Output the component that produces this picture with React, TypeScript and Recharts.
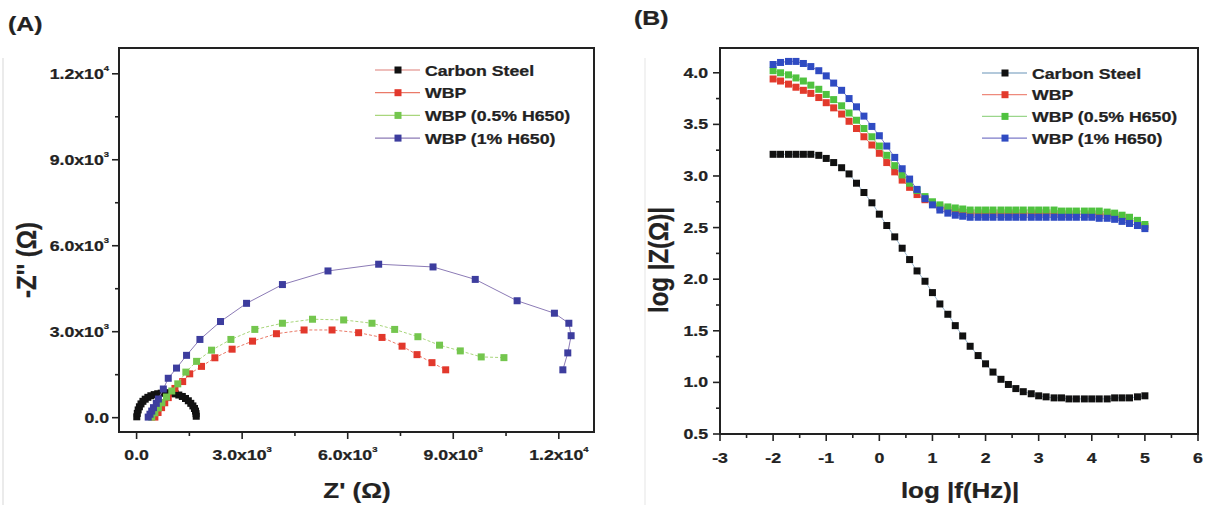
import React from "react";
import { ScatterChart, Scatter, XAxis, YAxis, ReferenceArea } from "recharts";

// ---- (A) Nyquist plot: Z' (ohm) vs -Z'' (ohm)
const CS_ZRE = [5, 20, 45, 80, 125, 180, 245, 320, 405, 500, 600, 700, 800, 900, 1000, 1100, 1200, 1300, 1390, 1470, 1540, 1600, 1645, 1675, 1690, 1695];
const CS_ZIM = [30, 150, 270, 380, 480, 570, 645, 710, 765, 805, 835, 855, 865, 865, 855, 830, 790, 740, 670, 590, 500, 410, 320, 230, 140, 50];

const WBP_ZRE = [520, 610, 710, 800, 900, 1090, 1310, 1510, 1845, 2225, 2715, 3295, 3975, 4760, 5555, 6310, 6975, 7545, 7970, 8395, 8785];
const WBP_ZIM = [20, 180, 350, 520, 700, 1020, 1260, 1530, 1790, 2090, 2390, 2670, 2930, 3060, 3060, 2965, 2800, 2495, 2200, 1920, 1670];

const H05_ZRE = [430, 520, 620, 720, 850, 1000, 1170, 1400, 1705, 2130, 2680, 3360, 4145, 5000, 5885, 6690, 7335, 7995, 8610, 9200, 9795, 10440];
const H05_ZIM = [20, 170, 340, 520, 720, 930, 1180, 1590, 1965, 2355, 2730, 3080, 3295, 3435, 3410, 3295, 3080, 2825, 2530, 2330, 2120, 2095];

const H1_ZRE = [330, 380, 430, 480, 560, 620, 760, 900, 1135, 1420, 1800, 2385, 3125, 4145, 5440, 6880, 8425, 9625, 10815, 11875, 12285, 12350, 12255, 12115];
const H1_ZIM = [20, 120, 230, 350, 500, 650, 1000, 1375, 1730, 2175, 2730, 3355, 3990, 4645, 5120, 5355, 5260, 4825, 4080, 3645, 3295, 2860, 2260, 1670];

// ---- (B) Bode plot: log f (Hz) vs log |Z|
const LOG_F = [-2.0, -1.86, -1.71, -1.57, -1.43, -1.29, -1.14, -1.0, -0.86, -0.71, -0.57, -0.43, -0.29, -0.14, 0.0, 0.14, 0.29, 0.43, 0.57, 0.71, 0.86, 1.0, 1.14, 1.29, 1.43, 1.57, 1.71, 1.86, 2.0, 2.14, 2.29, 2.43, 2.57, 2.71, 2.86, 3.0, 3.14, 3.29, 3.43, 3.57, 3.71, 3.86, 4.0, 4.14, 4.29, 4.43, 4.57, 4.71, 4.86, 5.0];
const BODE_CS = [3.21, 3.21, 3.21, 3.21, 3.21, 3.21, 3.2, 3.17, 3.13, 3.08, 3.02, 2.93, 2.84, 2.74, 2.63, 2.52, 2.41, 2.3, 2.19, 2.08, 1.98, 1.87, 1.76, 1.66, 1.55, 1.45, 1.35, 1.26, 1.18, 1.1, 1.03, 0.98, 0.94, 0.91, 0.89, 0.87, 0.86, 0.85, 0.85, 0.84, 0.84, 0.84, 0.84, 0.84, 0.84, 0.85, 0.85, 0.85, 0.86, 0.87];
const BODE_WBP = [3.94, 3.92, 3.89, 3.86, 3.83, 3.8, 3.76, 3.71, 3.66, 3.6, 3.53, 3.46, 3.38, 3.3, 3.22, 3.13, 3.04, 2.96, 2.89, 2.82, 2.77, 2.73, 2.7, 2.68, 2.66, 2.65, 2.64, 2.64, 2.64, 2.64, 2.64, 2.64, 2.64, 2.64, 2.64, 2.64, 2.64, 2.63, 2.63, 2.63, 2.63, 2.63, 2.63, 2.63, 2.63, 2.62, 2.6, 2.58, 2.55, 2.51];
const BODE_H05 = [4.02, 4.0, 3.98, 3.95, 3.92, 3.88, 3.84, 3.79, 3.74, 3.68, 3.61, 3.54, 3.46, 3.38, 3.29, 3.2, 3.1, 3.01, 2.93, 2.86, 2.8, 2.75, 2.72, 2.7, 2.69, 2.68, 2.67, 2.67, 2.67, 2.67, 2.67, 2.67, 2.67, 2.67, 2.67, 2.67, 2.67, 2.67, 2.66, 2.66, 2.66, 2.66, 2.66, 2.66, 2.65, 2.64, 2.62, 2.6, 2.57, 2.53];
const BODE_H1 = [4.08, 4.1, 4.11, 4.11, 4.09, 4.06, 4.02, 3.97, 3.9, 3.83, 3.75, 3.67, 3.58, 3.48, 3.39, 3.29, 3.18, 3.07, 2.97, 2.87, 2.78, 2.72, 2.67, 2.64, 2.62, 2.61, 2.6, 2.6, 2.6, 2.6, 2.6, 2.6, 2.6, 2.6, 2.6, 2.6, 2.6, 2.6, 2.6, 2.6, 2.6, 2.6, 2.6, 2.59, 2.59, 2.58, 2.56, 2.54, 2.52, 2.49];

const SERIES = ["Carbon Steel", "WBP", "WBP (0.5% H650)", "WBP (1% H650)"];
const COLORS_A = ["#111111", "#e2382c", "#74c64e", "#3d3d9e"];
const LINES_A = ["#e9a9a4", "#ea7a68", "#a9d67c", "#8c7bb6"];
const COLORS_B = ["#111111", "#e23a2c", "#4fc23f", "#2f4bc2"];
const LINES_B = ["#9ab7cf", "#ee8a7c", "#9bd68c", "#7c7bc9"];

const NYQ_TICKS = [0, 1500, 3000, 4500, 6000, 7500, 9000, 10500, 12000];
const BODE_X_TICKS = [-3, -2.5, -2, -1.5, -1, -0.5, 0, 0.5, 1, 1.5, 2, 2.5, 3, 3.5, 4, 4.5, 5, 5.5, 6];
const BODE_Y_TICKS = [0.5, 0.75, 1, 1.25, 1.5, 1.75, 2, 2.25, 2.5, 2.75, 3, 3.25, 3.5, 3.75, 4];

const FONT = "'Liberation Sans', Arial, Helvetica, sans-serif";
const SX = 1.18; // the source figure is stretched horizontally
const INK = "#222";
const AXIS_W = 60; // y axis band
const AXIS_H = 30; // x axis band

const pts = (xs: number[], ys: number[]) => xs.map((x, i) => ({ x, y: ys[i] }));

const NYQ = [pts(CS_ZRE, CS_ZIM), pts(WBP_ZRE, WBP_ZIM), pts(H05_ZRE, H05_ZIM), pts(H1_ZRE, H1_ZIM)];
const BODE = [pts(LOG_F, BODE_CS), pts(LOG_F, BODE_WBP), pts(LOG_F, BODE_H05), pts(LOG_F, BODE_H1)];

function WText({ x, y, size, anchor = "start", children }: any) {
  return (
    <text transform={`translate(${x} ${y}) scale(${SX} 1)`} textAnchor={anchor} fontFamily={FONT} fontWeight="bold"
      fontSize={size} fill={INK} stroke={INK} strokeWidth={0.25}>
      {children}
    </text>
  );
}

function RText({ x, y, size, children }: any) {
  return (
    <text transform={`translate(${x} ${y}) rotate(-90) scale(1 ${SX})`} textAnchor="middle" fontFamily={FONT} fontWeight="bold"
      fontSize={size} fill={INK} stroke={INK} strokeWidth={0.25}>
      {children}
    </text>
  );
}

function sci(v: number) {
  if (v === 0) return { m: "0.0", e: "" };
  const e = Math.floor(Math.log10(v) + 1e-9);
  return { m: (v / Math.pow(10, e)).toFixed(1) + "x10", e: String(e) };
}

function SciLabel({ x, y, anchor, v }: any) {
  const s = sci(v);
  return (
    <WText x={x} y={y} size={15} anchor={anchor}>
      {s.m}
      {s.e ? <tspan fontSize={8} dy={-8}>{s.e}</tspan> : null}
    </WText>
  );
}

// tick props: x/y are the tick position on the axis line (tickSize and tickMargin are 0)
const nyqXTick = (props: any) => {
  const { x, y, payload } = props;
  const major = payload.value % 3000 === 0;
  return (
    <g>
      <line x1={x} x2={x} y1={y} y2={y + (major ? 7 : 4)} stroke={INK} strokeWidth={1.6} />
      {major && <SciLabel x={x} y={y + 28} anchor="middle" v={payload.value} />}
    </g>
  );
};

const nyqYTick = (props: any) => {
  const { x, y, payload } = props;
  const major = payload.value % 3000 === 0;
  return (
    <g>
      <line x1={x} x2={x - (major ? 7 : 4)} y1={y} y2={y} stroke={INK} strokeWidth={1.6} />
      {major && <SciLabel x={x - 10} y={y + 5} anchor="end" v={payload.value} />}
    </g>
  );
};

const bodeXTick = (props: any) => {
  const { x, y, payload } = props;
  const v = payload.value;
  const major = Math.abs(v - Math.round(v)) < 1e-6;
  return (
    <g>
      <line x1={x} x2={x} y1={y} y2={y + (major ? 7 : 4)} stroke={INK} strokeWidth={1.6} />
      {major && <WText x={x} y={y + 29} size={15} anchor="middle">{String(v)}</WText>}
    </g>
  );
};

const bodeYTick = (props: any) => {
  const { x, y, payload } = props;
  const v = payload.value;
  const major = Math.abs(v * 2 - Math.round(v * 2)) < 1e-6;
  return (
    <g>
      <line x1={x} x2={x - (major ? 7 : 4)} y1={y} y2={y} stroke={INK} strokeWidth={1.6} />
      {major && <WText x={x - 12} y={y + 5} size={15} anchor="end">{v.toFixed(1)}</WText>}
    </g>
  );
};

const square = (fill: string) => (p: any) => (
  <rect x={p.cx - 3.5} y={p.cy - 3.5} width={7} height={7} fill={fill} />
);

function LegendBlock({ x0, y0, dy, colors, lines }: any) {
  return (
    <g>
      {SERIES.map((name, i) => {
        const cy = y0 + i * dy;
        return (
          <g key={name}>
            <line x1={x0} x2={x0 + 45} y1={cy} y2={cy} stroke={lines[i]} strokeWidth={1.3} />
            <rect x={x0 + 19.5} y={cy - 3.5} width={7} height={7} fill={colors[i]} />
            <WText x={x0 + 50} y={cy + 5.5} size={15}>{name}</WText>
          </g>
        );
      })}
    </g>
  );
}

export default function App() {
  return (
    <div style={{ position: "absolute", left: 0, top: 0, width: 1207, height: 505, background: "#fff" }}>
      <div style={{ position: "absolute", left: 0, top: 0 }}>
        <ScatterChart width={600} height={505} margin={{ top: 48, right: 6, bottom: 73 - AXIS_H, left: 119 - AXIS_W }}>
          <XAxis type="number" dataKey="x" domain={[-500, 13000]} allowDataOverflow ticks={NYQ_TICKS} interval={0}
            axisLine={false} tickLine={false} tickSize={0} tickMargin={0} height={AXIS_H} tick={nyqXTick} />
          <YAxis type="number" dataKey="y" domain={[-500, 12900]} allowDataOverflow ticks={NYQ_TICKS} interval={0}
            axisLine={false} tickLine={false} tickSize={0} tickMargin={0} width={AXIS_W} tick={nyqYTick} />
          <ReferenceArea x1={-500} x2={13000} y1={-500} y2={12900} fill="none" fillOpacity={0} stroke={INK} strokeWidth={2} ifOverflow="visible" />
          {NYQ.map((data, i) => (
            <Scatter key={SERIES[i]} name={SERIES[i]} data={data} fill={COLORS_A[i]} shape={square(COLORS_A[i])}
              line={{ stroke: LINES_A[i], strokeWidth: 1, strokeDasharray: i === 1 || i === 2 ? "3 2" : undefined }}
              isAnimationActive={false} />
          ))}
        </ScatterChart>
      </div>
      <div style={{ position: "absolute", left: 600, top: 0 }}>
        <ScatterChart width={607} height={505} margin={{ top: 48, right: 9, bottom: 71 - AXIS_H, left: 120 - AXIS_W }}>
          <XAxis type="number" dataKey="x" domain={[-3, 6]} allowDataOverflow ticks={BODE_X_TICKS} interval={0}
            axisLine={false} tickLine={false} tickSize={0} tickMargin={0} height={AXIS_H} tick={bodeXTick} />
          <YAxis type="number" dataKey="y" domain={[0.5, 4.24]} allowDataOverflow ticks={BODE_Y_TICKS} interval={0}
            axisLine={false} tickLine={false} tickSize={0} tickMargin={0} width={AXIS_W} tick={bodeYTick} />
          <ReferenceArea x1={-3} x2={6} y1={0.5} y2={4.24} fill="none" fillOpacity={0} stroke={INK} strokeWidth={2} ifOverflow="visible" />
          {BODE.map((data, i) => (
            <Scatter key={SERIES[i]} name={SERIES[i]} data={data} fill={COLORS_B[i]} shape={square(COLORS_B[i])}
              line={{ stroke: LINES_B[i], strokeWidth: 1 }} isAnimationActive={false} />
          ))}
        </ScatterChart>
      </div>
      <svg width={1207} height={505} style={{ position: "absolute", left: 0, top: 0, pointerEvents: "none" }}>
        <line x1={3} x2={3} y1={58} y2={505} stroke="#e4e4e4" strokeWidth={1.5} />
        <line x1={645} x2={645} y1={58} y2={505} stroke="#eeeeee" strokeWidth={1.5} />
        <WText x={8} y={31} size={21}>(A)</WText>
        <WText x={634} y={25} size={21}>(B)</WText>
        <WText x={357} y={498} size={22} anchor="middle">Z' (Ω)</WText>
        <RText x={36} y={260} size={24}>-Z'' (Ω)</RText>
        <WText x={960} y={498} size={22} anchor="middle">log |f(Hz)|</WText>
        <RText x={668} y={260} size={24}>log |Z(Ω)|</RText>
        <LegendBlock x0={375} y0={70} dy={22.7} colors={COLORS_A} lines={LINES_A} />
        <LegendBlock x0={982} y0={73} dy={21.7} colors={COLORS_B} lines={LINES_B} />
      </svg>
    </div>
  );
}
